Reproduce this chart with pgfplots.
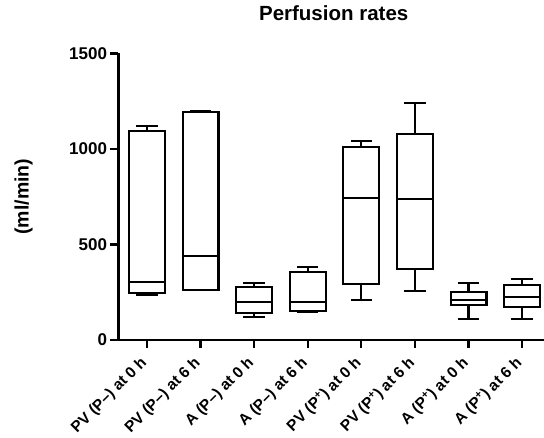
\documentclass[border=0pt]{standalone}
\usepackage{pgfplots}
\pgfplotsset{compat=1.18}
\usepackage{fontspec}
\setmainfont{Liberation Sans}

% box: Q1..Q3 rectangle, median, whiskers with caps (half widths 0.335 / 0.18)
\pgfplotsset{
  pbox/.style={black, solid, line width=2.1pt, line cap=rect, no marks, unbounded coords=jump},
}

\begin{document}
\begin{tikzpicture}
\path[use as bounding box] (-118.5pt,-98pt) rectangle (425.5pt,340pt);
\begin{axis}[
  scale only axis,
  width=430.4pt, height=286.5pt,
  xmin=-0.53, xmax=7.5,
  ymin=0, ymax=1500,
  axis x line=bottom, axis y line=left,
  axis line style={-, line width=2.3pt},
  tick align=outside, tick pos=left,
  major tick length=8pt,
  every tick/.style={black, line width=2.1pt},
  xtick={0,...,7},
  xticklabels={PV (P–) at 0 h, PV (P–) at 6 h, A (P–) at 0 h, A (P–) at 6 h,
    PV (P\textsuperscript{+}) at 0 h, PV (P\textsuperscript{+}) at 6 h,
    A (P\textsuperscript{+}) at 0 h, A (P\textsuperscript{+}) at 6 h},
  ytick={0,500,1000,1500},
  /pgf/number format/assume math mode=true,
  /pgf/number format/1000 sep={},
  yticklabel style={font=\bfseries\fontsize{17}{20}\selectfont},
  xticklabel shift=10pt,
  xticklabel style={font=\bfseries\fontsize{15.5}{18}\selectfont, rotate=45, anchor=east},
  title={Perfusion rates},
  title style={font=\bfseries\fontsize{20.5}{24}\selectfont, at={(0.5,1)}, anchor=base, yshift=26.5pt},
  ylabel={(ml/min)},
  ylabel style={font=\bfseries\fontsize{19.5}{22}\selectfont, at={(axis description cs:-0.2207,0.5)}, anchor=center},
]
% PV (P-) 0 h: lw 237, q1 244, med 302, q3 1096, uw 1120
\addplot[pbox] coordinates {(-0.335,244) (0.335,244) (0.335,1096) (-0.335,1096) (-0.335,244) (nan,nan)
  (-0.335,302) (0.335,302) (nan,nan) (0,244) (0,237) (nan,nan) (-0.18,237) (0.18,237) (nan,nan)
  (0,1096) (0,1120) (nan,nan) (-0.18,1120) (0.18,1120)};
% PV (P-) 6 h
\addplot[pbox] coordinates {(0.665,262) (1.335,262) (1.335,1195) (0.665,1195) (0.665,262) (nan,nan)
  (0.665,441) (1.335,441) (nan,nan) (1,262) (1,260) (nan,nan) (0.82,260) (1.18,260) (nan,nan)
  (1,1195) (1,1199) (nan,nan) (0.82,1199) (1.18,1199)};
% A (P-) 0 h
\addplot[pbox] coordinates {(1.665,143) (2.335,143) (2.335,279) (1.665,279) (1.665,143) (nan,nan)
  (1.665,201) (2.335,201) (nan,nan) (2,143) (2,119) (nan,nan) (1.82,119) (2.18,119) (nan,nan)
  (2,279) (2,300) (nan,nan) (1.82,300) (2.18,300)};
% A (P-) 6 h
\addplot[pbox] coordinates {(2.665,154) (3.335,154) (3.335,356) (2.665,356) (2.665,154) (nan,nan)
  (2.665,197) (3.335,197) (nan,nan) (3,154) (3,147) (nan,nan) (2.82,147) (3.18,147) (nan,nan)
  (3,356) (3,382) (nan,nan) (2.82,382) (3.18,382)};
% PV (P+) 0 h
\addplot[pbox] coordinates {(3.665,293) (4.335,293) (4.335,1012) (3.665,1012) (3.665,293) (nan,nan)
  (3.665,742) (4.335,742) (nan,nan) (4,293) (4,209) (nan,nan) (3.82,209) (4.18,209) (nan,nan)
  (4,1012) (4,1042) (nan,nan) (3.82,1042) (4.18,1042)};
% PV (P+) 6 h
\addplot[pbox] coordinates {(4.665,370) (5.335,370) (5.335,1077) (4.665,1077) (4.665,370) (nan,nan)
  (4.665,737) (5.335,737) (nan,nan) (5,370) (5,258) (nan,nan) (4.82,258) (5.18,258) (nan,nan)
  (5,1077) (5,1243) (nan,nan) (4.82,1243) (5.18,1243)};
% A (P+) 0 h
\addplot[pbox] coordinates {(5.665,183) (6.335,183) (6.335,253) (5.665,253) (5.665,183) (nan,nan)
  (5.665,209) (6.335,209) (nan,nan) (6,183) (6,108) (nan,nan) (5.82,108) (6.18,108) (nan,nan)
  (6,253) (6,300) (nan,nan) (5.82,300) (6.18,300)};
% A (P+) 6 h
\addplot[pbox] coordinates {(6.665,174) (7.335,174) (7.335,288) (6.665,288) (6.665,174) (nan,nan)
  (6.665,224) (7.335,224) (nan,nan) (7,174) (7,108) (nan,nan) (6.82,108) (7.18,108) (nan,nan)
  (7,288) (7,318) (nan,nan) (6.82,318) (7.18,318)};
\end{axis}
\end{tikzpicture}
\end{document}
